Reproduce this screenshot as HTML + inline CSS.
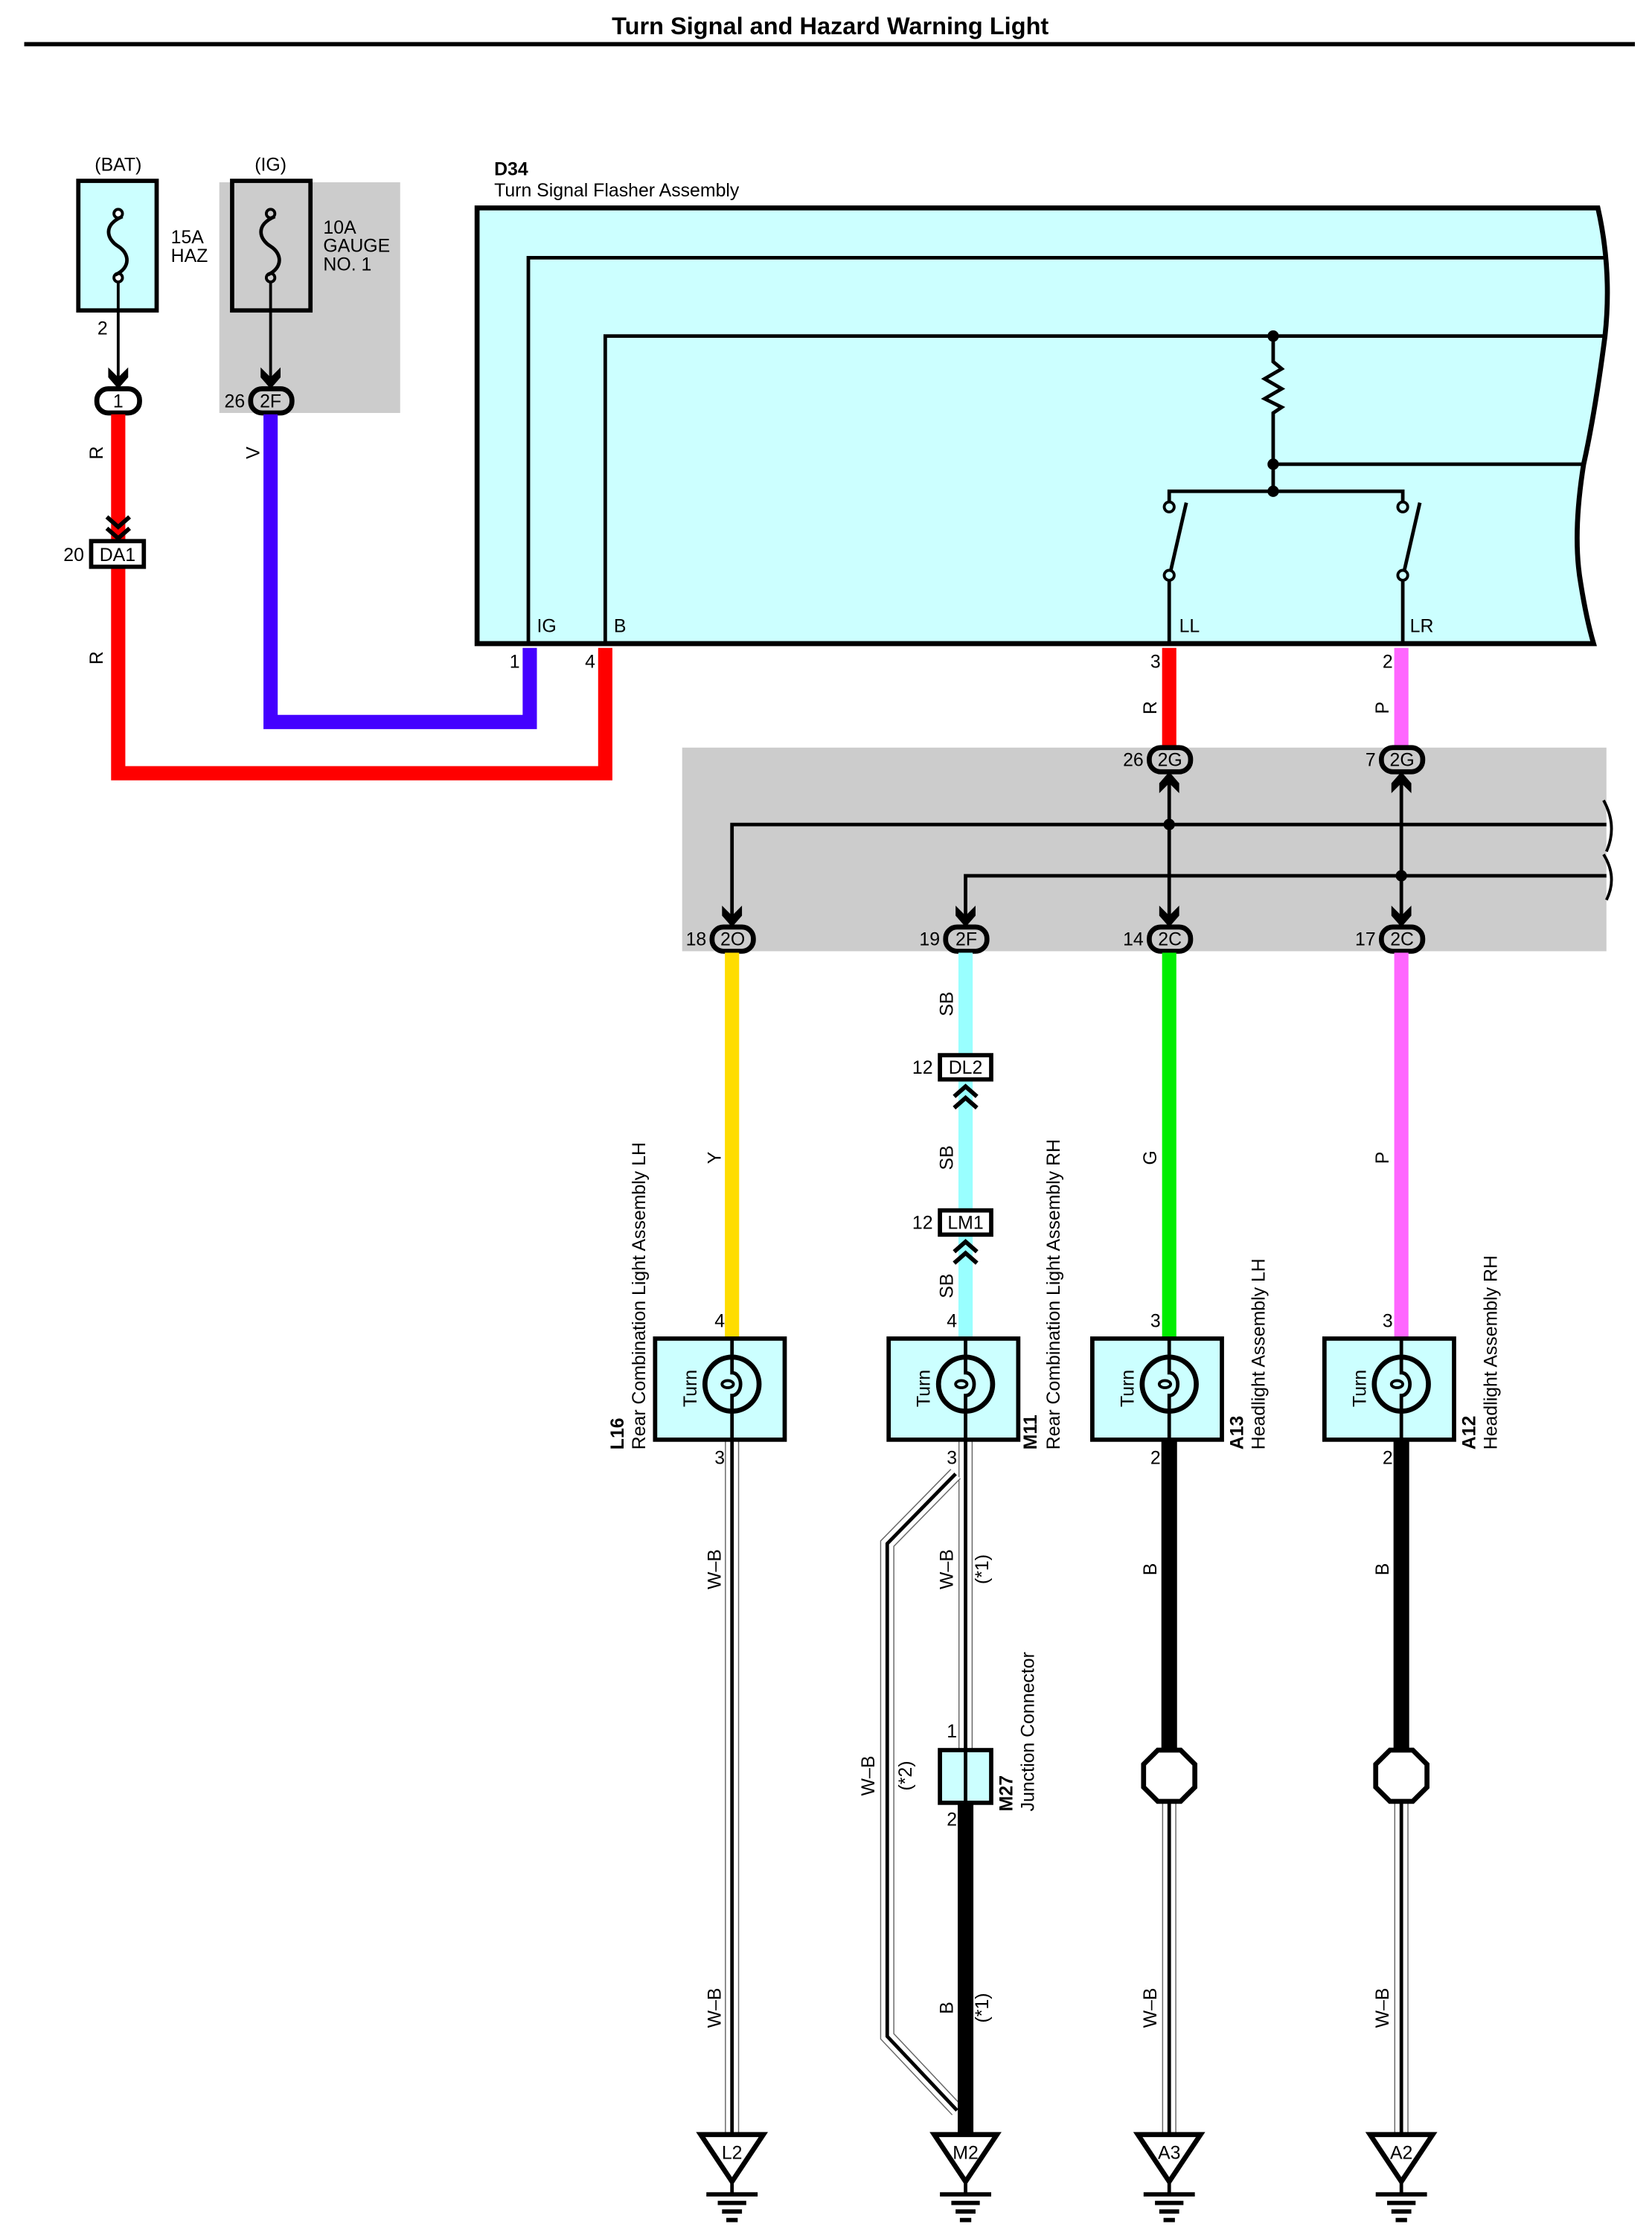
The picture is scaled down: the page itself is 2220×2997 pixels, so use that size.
<!DOCTYPE html>
<html><head><meta charset="utf-8"><style>
html,body{margin:0;padding:0;background:#fff;}
svg{display:block;}
text{font-family:"Liberation Sans",Arial,sans-serif;font-size:13px;fill:#000;}
</style></head><body>
<svg width="2220" height="2997" viewBox="0 0 1160 1566" xmlns="http://www.w3.org/2000/svg">
<defs>
<path id="arr" d="M0,0 L-7,-8 L-7,-15 L0,-8 L7,-15 L7,-8 Z" fill="#000"/>
<path id="chev" d="M-8,0 L0,-7 L8,0" fill="none" stroke="#000" stroke-width="3"/>
</defs>
<rect width="1160" height="1566" fill="#fff"/>
<text x="583" y="24" text-anchor="middle" style="font-weight:bold;font-size:17px">Turn Signal and Hazard Warning Light</text>
<line x1="17" y1="31" x2="1148" y2="31" stroke="#000" stroke-width="3"/>

<rect x="154" y="128" width="127" height="162" fill="#cccccc"/>
<rect x="479" y="525" width="649" height="143" fill="#cccccc"/>

<text x="83" y="120" text-anchor="middle">(BAT)</text>
<rect x="55" y="127" width="55" height="91" fill="#ccffff" stroke="#000" stroke-width="3"/>
<circle cx="83" cy="150" r="3" fill="#fff" stroke="#000" stroke-width="2"/>
<circle cx="83" cy="195" r="3" fill="#fff" stroke="#000" stroke-width="2"/>
<path d="M86,152 C72,158 75,168 83,173 C91,178 92,188 81,193" fill="none" stroke="#000" stroke-width="2.5"/>
<text x="120" y="171">15A</text><text x="120" y="184">HAZ</text>
<text x="72" y="235" text-anchor="middle">2</text>
<line x1="83" y1="198" x2="83" y2="268" stroke="#000" stroke-width="2"/>
<use href="#arr" x="83" y="273"/>
<rect x="68" y="273" width="30" height="17" rx="8" fill="#fff" stroke="#000" stroke-width="3.5"/>
<text x="83" y="286" text-anchor="middle">1</text>

<text x="190" y="120" text-anchor="middle">(IG)</text>
<rect x="163" y="127" width="55" height="91" fill="#cccccc" stroke="#000" stroke-width="3"/>
<circle cx="190" cy="150" r="3" fill="#ccc" stroke="#000" stroke-width="2"/>
<circle cx="190" cy="195" r="3" fill="#ccc" stroke="#000" stroke-width="2"/>
<path d="M193,152 C179,158 182,168 190,173 C198,178 199,188 188,193" fill="none" stroke="#000" stroke-width="2.5"/>
<text x="227" y="164">10A</text><text x="227" y="177">GAUGE</text><text x="227" y="190">NO. 1</text>
<line x1="190" y1="198" x2="190" y2="268" stroke="#000" stroke-width="2"/>
<use href="#arr" x="190" y="273"/>
<rect x="176" y="273" width="29" height="17" rx="8" fill="#ccc" stroke="#000" stroke-width="3.5"/>
<text x="190" y="286" text-anchor="middle">2F</text>
<text x="172" y="286" text-anchor="end">26</text>

<polyline points="83,291 83,543 425,543 425,455" fill="none" stroke="#ff0000" stroke-width="10"/>
<text transform="translate(72,318) rotate(-90)" text-anchor="middle">R</text>
<text transform="translate(72,462) rotate(-90)" text-anchor="middle">R</text>
<g transform="translate(83,363)"><use href="#chev" transform="rotate(180)"/></g>
<g transform="translate(83,371)"><use href="#chev" transform="rotate(180)"/></g>
<rect x="64" y="380" width="37" height="18" fill="#fff" stroke="#000" stroke-width="3"/>
<text x="82.5" y="394" text-anchor="middle">DA1</text>
<text x="59" y="394" text-anchor="end">20</text>

<polyline points="190,291 190,507 372,507 372,455" fill="none" stroke="#4400ff" stroke-width="10"/>
<text transform="translate(182,318) rotate(-90)" text-anchor="middle">V</text>

<text x="347" y="123" style="font-weight:bold">D34</text>
<text x="347" y="138">Turn Signal Flasher Assembly</text>
<path d="M335,146 L1122,146 Q1132,190 1127,236 Q1120,290 1112,326 Q1104,376 1110,410 Q1114,435 1119,452 L335,452 Z" fill="#ccffff" stroke="#000" stroke-width="3.5"/>
<g stroke="#000" stroke-width="2.5" fill="none">
<polyline points="371,452 371,181 1129,181"/>
<polyline points="425,452 425,236 1127,236"/>
<polyline points="894,236 894,254 900,259 888,266 900,273 888,280 900,286 894,290 894,345"/>
<line x1="894" y1="326" x2="1112" y2="326"/>
<polyline points="821,352 821,345 985,345 985,352"/>
<line x1="821" y1="407" x2="821" y2="452"/>
<line x1="985" y1="407" x2="985" y2="452"/>
<line x1="822" y1="401" x2="833" y2="353"/>
<line x1="986" y1="401" x2="997" y2="353"/>
</g>
<circle cx="894" cy="236" r="4" fill="#000"/>
<circle cx="894" cy="326" r="4" fill="#000"/>
<circle cx="894" cy="345" r="4" fill="#000"/>
<circle cx="821" cy="356" r="3.5" fill="#ccffff" stroke="#000" stroke-width="2"/>
<circle cx="821" cy="404" r="3.5" fill="#ccffff" stroke="#000" stroke-width="2"/>
<circle cx="985" cy="356" r="3.5" fill="#ccffff" stroke="#000" stroke-width="2"/>
<circle cx="985" cy="404" r="3.5" fill="#ccffff" stroke="#000" stroke-width="2"/>
<text x="377" y="444">IG</text><text x="431" y="444">B</text>
<text x="828" y="444">LL</text><text x="990" y="444">LR</text>
<text x="365" y="469" text-anchor="end">1</text>
<text x="418" y="469" text-anchor="end">4</text>
<text x="815" y="469" text-anchor="end">3</text>
<text x="978" y="469" text-anchor="end">2</text>

<line x1="821" y1="455" x2="821" y2="525" stroke="#ff0000" stroke-width="10"/>
<line x1="984" y1="455" x2="984" y2="525" stroke="#ff66ff" stroke-width="10"/>
<text transform="translate(812,497) rotate(-90)" text-anchor="middle">R</text>
<text transform="translate(975,497) rotate(-90)" text-anchor="middle">P</text>

<g stroke="#000" stroke-width="2.5" fill="none">
<polyline points="514,645 514,579 1128,579"/>
<polyline points="678,645 678,615 1128,615"/>
<line x1="821" y1="548" x2="821" y2="645"/>
<line x1="984" y1="548" x2="984" y2="645"/>
<path d="M1126,562 Q1136,580 1128,598 M1126,600 Q1136,616 1128,632" stroke-width="2"/>
</g>
<circle cx="821" cy="579" r="4" fill="#000"/>
<circle cx="984" cy="615" r="4" fill="#000"/>
<use href="#arr" transform="translate(821,542) rotate(180)"/>
<use href="#arr" transform="translate(984,542) rotate(180)"/>
<rect x="807" y="525" width="29" height="17" rx="8" fill="#ccc" stroke="#000" stroke-width="3.5"/>
<text x="821.5" y="538" text-anchor="middle">2G</text><text x="803" y="538" text-anchor="end">26</text>
<rect x="970" y="525" width="29" height="17" rx="8" fill="#ccc" stroke="#000" stroke-width="3.5"/>
<text x="984.5" y="538" text-anchor="middle">2G</text><text x="966" y="538" text-anchor="end">7</text>
<g>
<use href="#arr" x="514" y="651"/><use href="#arr" x="678" y="651"/><use href="#arr" x="821" y="651"/><use href="#arr" x="984" y="651"/>
<rect x="500" y="651" width="29" height="17" rx="8" fill="#ccc" stroke="#000" stroke-width="3.5"/>
<rect x="664" y="651" width="29" height="17" rx="8" fill="#ccc" stroke="#000" stroke-width="3.5"/>
<rect x="807" y="651" width="29" height="17" rx="8" fill="#ccc" stroke="#000" stroke-width="3.5"/>
<rect x="970" y="651" width="29" height="17" rx="8" fill="#ccc" stroke="#000" stroke-width="3.5"/>
<text x="514.5" y="664" text-anchor="middle">2O</text><text x="496" y="664" text-anchor="end">18</text>
<text x="678.5" y="664" text-anchor="middle">2F</text><text x="660" y="664" text-anchor="end">19</text>
<text x="821.5" y="664" text-anchor="middle">2C</text><text x="803" y="664" text-anchor="end">14</text>
<text x="984.5" y="664" text-anchor="middle">2C</text><text x="966" y="664" text-anchor="end">17</text>
</g>

<line x1="514" y1="669" x2="514" y2="940" stroke="#ffdd00" stroke-width="10"/>
<line x1="678" y1="669" x2="678" y2="940" stroke="#99ffff" stroke-width="10"/>
<line x1="821" y1="669" x2="821" y2="940" stroke="#00ee00" stroke-width="10"/>
<line x1="984" y1="669" x2="984" y2="940" stroke="#ff66ff" stroke-width="10"/>
<text transform="translate(506,813) rotate(-90)" text-anchor="middle">Y</text>
<text transform="translate(812,813) rotate(-90)" text-anchor="middle">G</text>
<text transform="translate(975,813) rotate(-90)" text-anchor="middle">P</text>
<text transform="translate(669,705) rotate(-90)" text-anchor="middle">SB</text>
<text transform="translate(669,813) rotate(-90)" text-anchor="middle">SB</text>
<text transform="translate(669,903) rotate(-90)" text-anchor="middle">SB</text>
<rect x="660" y="741" width="36" height="17" fill="#fff" stroke="#000" stroke-width="3"/>
<text x="678" y="754" text-anchor="middle">DL2</text><text x="655" y="754" text-anchor="end">12</text>
<use href="#chev" x="678" y="770"/><use href="#chev" x="678" y="778"/>
<rect x="660" y="850" width="36" height="17" fill="#fff" stroke="#000" stroke-width="3"/>
<text x="678" y="863" text-anchor="middle">LM1</text><text x="655" y="863" text-anchor="end">12</text>
<use href="#chev" x="678" y="879"/><use href="#chev" x="678" y="887"/>
<text x="509" y="932" text-anchor="end">4</text>
<text x="672" y="932" text-anchor="end">4</text>
<text x="815" y="932" text-anchor="end">3</text>
<text x="978" y="932" text-anchor="end">3</text>

<g fill="none" stroke-linejoin="miter">
<line x1="514" y1="1011" x2="514" y2="1500" stroke="#666" stroke-width="10"/>
<line x1="514" y1="1011" x2="514" y2="1500" stroke="#fff" stroke-width="8.5"/>
<line x1="514" y1="1011" x2="514" y2="1500" stroke="#000" stroke-width="2.5"/>
<line x1="678" y1="1011" x2="678" y2="1229" stroke="#666" stroke-width="10"/>
<line x1="678" y1="1011" x2="678" y2="1229" stroke="#fff" stroke-width="8.5"/>
<line x1="678" y1="1011" x2="678" y2="1229" stroke="#000" stroke-width="2.5"/>
<polyline points="671,1035 623,1084 623,1430 672,1482" stroke="#666" stroke-width="10"/>
<polyline points="671,1035 623,1084 623,1430 672,1482" stroke="#fff" stroke-width="8.5"/>
<polyline points="671,1035 623,1084 623,1430 672,1482" stroke="#000" stroke-width="2.5"/>
<line x1="678" y1="1266" x2="678" y2="1500" stroke="#000" stroke-width="11"/>
<line x1="821" y1="1011" x2="821" y2="1232" stroke="#000" stroke-width="11"/>
<line x1="821" y1="1262" x2="821" y2="1500" stroke="#666" stroke-width="10"/>
<line x1="821" y1="1262" x2="821" y2="1500" stroke="#fff" stroke-width="8.5"/>
<line x1="821" y1="1262" x2="821" y2="1500" stroke="#000" stroke-width="2.5"/>
<line x1="984" y1="1011" x2="984" y2="1232" stroke="#000" stroke-width="11"/>
<line x1="984" y1="1262" x2="984" y2="1500" stroke="#666" stroke-width="10"/>
<line x1="984" y1="1262" x2="984" y2="1500" stroke="#fff" stroke-width="8.5"/>
<line x1="984" y1="1262" x2="984" y2="1500" stroke="#000" stroke-width="2.5"/>
</g>
<polygon points="813,1229 829,1229 839,1239 839,1255 829,1265 813,1265 803,1255 803,1239" fill="#fff" stroke="#000" stroke-width="3.5"/>
<polygon points="976,1229 992,1229 1002,1239 1002,1255 992,1265 976,1265 966,1255 966,1239" fill="#fff" stroke="#000" stroke-width="3.5"/>
<rect x="660" y="1229" width="36" height="37" fill="#ccffff" stroke="#000" stroke-width="3"/>
<line x1="678" y1="1229" x2="678" y2="1266" stroke="#000" stroke-width="2.5"/>

<text x="509" y="1028" text-anchor="end">3</text>
<text x="672" y="1028" text-anchor="end">3</text>
<text x="815" y="1028" text-anchor="end">2</text>
<text x="978" y="1028" text-anchor="end">2</text>
<text x="672" y="1220" text-anchor="end">1</text>
<text x="672" y="1282" text-anchor="end">2</text>
<text transform="translate(506,1102) rotate(-90)" text-anchor="middle">W–B</text>
<text transform="translate(506,1410) rotate(-90)" text-anchor="middle">W–B</text>
<text transform="translate(669,1102) rotate(-90)" text-anchor="middle">W–B</text>
<text transform="translate(694,1102) rotate(-90)" text-anchor="middle">(*1)</text>
<text transform="translate(614,1247) rotate(-90)" text-anchor="middle">W–B</text>
<text transform="translate(640,1247) rotate(-90)" text-anchor="middle">(*2)</text>
<text transform="translate(669,1410) rotate(-90)" text-anchor="middle">B</text>
<text transform="translate(694,1410) rotate(-90)" text-anchor="middle">(*1)</text>
<text transform="translate(812,1102) rotate(-90)" text-anchor="middle">B</text>
<text transform="translate(812,1410) rotate(-90)" text-anchor="middle">W–B</text>
<text transform="translate(975,1102) rotate(-90)" text-anchor="middle">B</text>
<text transform="translate(975,1410) rotate(-90)" text-anchor="middle">W–B</text>
<text transform="translate(711,1272) rotate(-90)" style="font-weight:bold">M27</text>
<text transform="translate(726,1272) rotate(-90)">Junction Connector</text>

<g>
<g transform="translate(514,0)">
<rect x="-54" y="940" width="91" height="71" fill="#ccffff" stroke="#000" stroke-width="3"/>
<circle cx="0" cy="972" r="19" fill="none" stroke="#000" stroke-width="3.5"/>
<path d="M0,940 L0,964 A6,8 0 0 1 0,980 L0,1011" fill="none" stroke="#000" stroke-width="2.5"/>
<ellipse cx="-3" cy="972" rx="4" ry="2.5" fill="none" stroke="#000" stroke-width="2"/>
<text transform="translate(-25,975) rotate(-90)" text-anchor="middle">Turn</text>
</g>
<g transform="translate(678,0)">
<rect x="-54" y="940" width="91" height="71" fill="#ccffff" stroke="#000" stroke-width="3"/>
<circle cx="0" cy="972" r="19" fill="none" stroke="#000" stroke-width="3.5"/>
<path d="M0,940 L0,964 A6,8 0 0 1 0,980 L0,1011" fill="none" stroke="#000" stroke-width="2.5"/>
<ellipse cx="-3" cy="972" rx="4" ry="2.5" fill="none" stroke="#000" stroke-width="2"/>
<text transform="translate(-25,975) rotate(-90)" text-anchor="middle">Turn</text>
</g>
<g transform="translate(821,0)">
<rect x="-54" y="940" width="91" height="71" fill="#ccffff" stroke="#000" stroke-width="3"/>
<circle cx="0" cy="972" r="19" fill="none" stroke="#000" stroke-width="3.5"/>
<path d="M0,940 L0,964 A6,8 0 0 1 0,980 L0,1011" fill="none" stroke="#000" stroke-width="2.5"/>
<ellipse cx="-3" cy="972" rx="4" ry="2.5" fill="none" stroke="#000" stroke-width="2"/>
<text transform="translate(-25,975) rotate(-90)" text-anchor="middle">Turn</text>
</g>
<g transform="translate(984,0)">
<rect x="-54" y="940" width="91" height="71" fill="#ccffff" stroke="#000" stroke-width="3"/>
<circle cx="0" cy="972" r="19" fill="none" stroke="#000" stroke-width="3.5"/>
<path d="M0,940 L0,964 A6,8 0 0 1 0,980 L0,1011" fill="none" stroke="#000" stroke-width="2.5"/>
<ellipse cx="-3" cy="972" rx="4" ry="2.5" fill="none" stroke="#000" stroke-width="2"/>
<text transform="translate(-25,975) rotate(-90)" text-anchor="middle">Turn</text>
</g>
</g>
<text transform="translate(438,1018) rotate(-90)" style="font-weight:bold">L16</text>
<text transform="translate(453,1018) rotate(-90)">Rear Combination Light Assembly LH</text>
<text transform="translate(728,1018) rotate(-90)" style="font-weight:bold">M11</text>
<text transform="translate(744,1018) rotate(-90)">Rear Combination Light Assembly RH</text>
<text transform="translate(873,1018) rotate(-90)" style="font-weight:bold">A13</text>
<text transform="translate(888,1018) rotate(-90)">Headlight Assembly LH</text>
<text transform="translate(1036,1018) rotate(-90)" style="font-weight:bold">A12</text>
<text transform="translate(1051,1018) rotate(-90)">Headlight Assembly RH</text>

<g stroke="#000" fill="none">
<g transform="translate(514,0)">
<polygon points="-22,1499 22,1499 0,1532" fill="#fff" stroke-width="3.5"/>
<line x1="0" y1="1532" x2="0" y2="1541" stroke-width="2.5"/>
<line x1="-18" y1="1541" x2="18" y2="1541" stroke-width="3"/>
<line x1="-10" y1="1547" x2="10" y2="1547" stroke-width="3"/>
<line x1="-7" y1="1553" x2="7" y2="1553" stroke-width="3"/>
<line x1="-4" y1="1559" x2="4" y2="1559" stroke-width="3"/>
</g>
<g transform="translate(678,0)">
<polygon points="-22,1499 22,1499 0,1532" fill="#fff" stroke-width="3.5"/>
<line x1="0" y1="1532" x2="0" y2="1541" stroke-width="2.5"/>
<line x1="-18" y1="1541" x2="18" y2="1541" stroke-width="3"/>
<line x1="-10" y1="1547" x2="10" y2="1547" stroke-width="3"/>
<line x1="-7" y1="1553" x2="7" y2="1553" stroke-width="3"/>
<line x1="-4" y1="1559" x2="4" y2="1559" stroke-width="3"/>
</g>
<g transform="translate(821,0)">
<polygon points="-22,1499 22,1499 0,1532" fill="#fff" stroke-width="3.5"/>
<line x1="0" y1="1532" x2="0" y2="1541" stroke-width="2.5"/>
<line x1="-18" y1="1541" x2="18" y2="1541" stroke-width="3"/>
<line x1="-10" y1="1547" x2="10" y2="1547" stroke-width="3"/>
<line x1="-7" y1="1553" x2="7" y2="1553" stroke-width="3"/>
<line x1="-4" y1="1559" x2="4" y2="1559" stroke-width="3"/>
</g>
<g transform="translate(984,0)">
<polygon points="-22,1499 22,1499 0,1532" fill="#fff" stroke-width="3.5"/>
<line x1="0" y1="1532" x2="0" y2="1541" stroke-width="2.5"/>
<line x1="-18" y1="1541" x2="18" y2="1541" stroke-width="3"/>
<line x1="-10" y1="1547" x2="10" y2="1547" stroke-width="3"/>
<line x1="-7" y1="1553" x2="7" y2="1553" stroke-width="3"/>
<line x1="-4" y1="1559" x2="4" y2="1559" stroke-width="3"/>
</g>
</g>
<text x="514" y="1516" text-anchor="middle">L2</text>
<text x="678" y="1516" text-anchor="middle">M2</text>
<text x="821" y="1516" text-anchor="middle">A3</text>
<text x="984" y="1516" text-anchor="middle">A2</text>
</svg>
</body></html>
